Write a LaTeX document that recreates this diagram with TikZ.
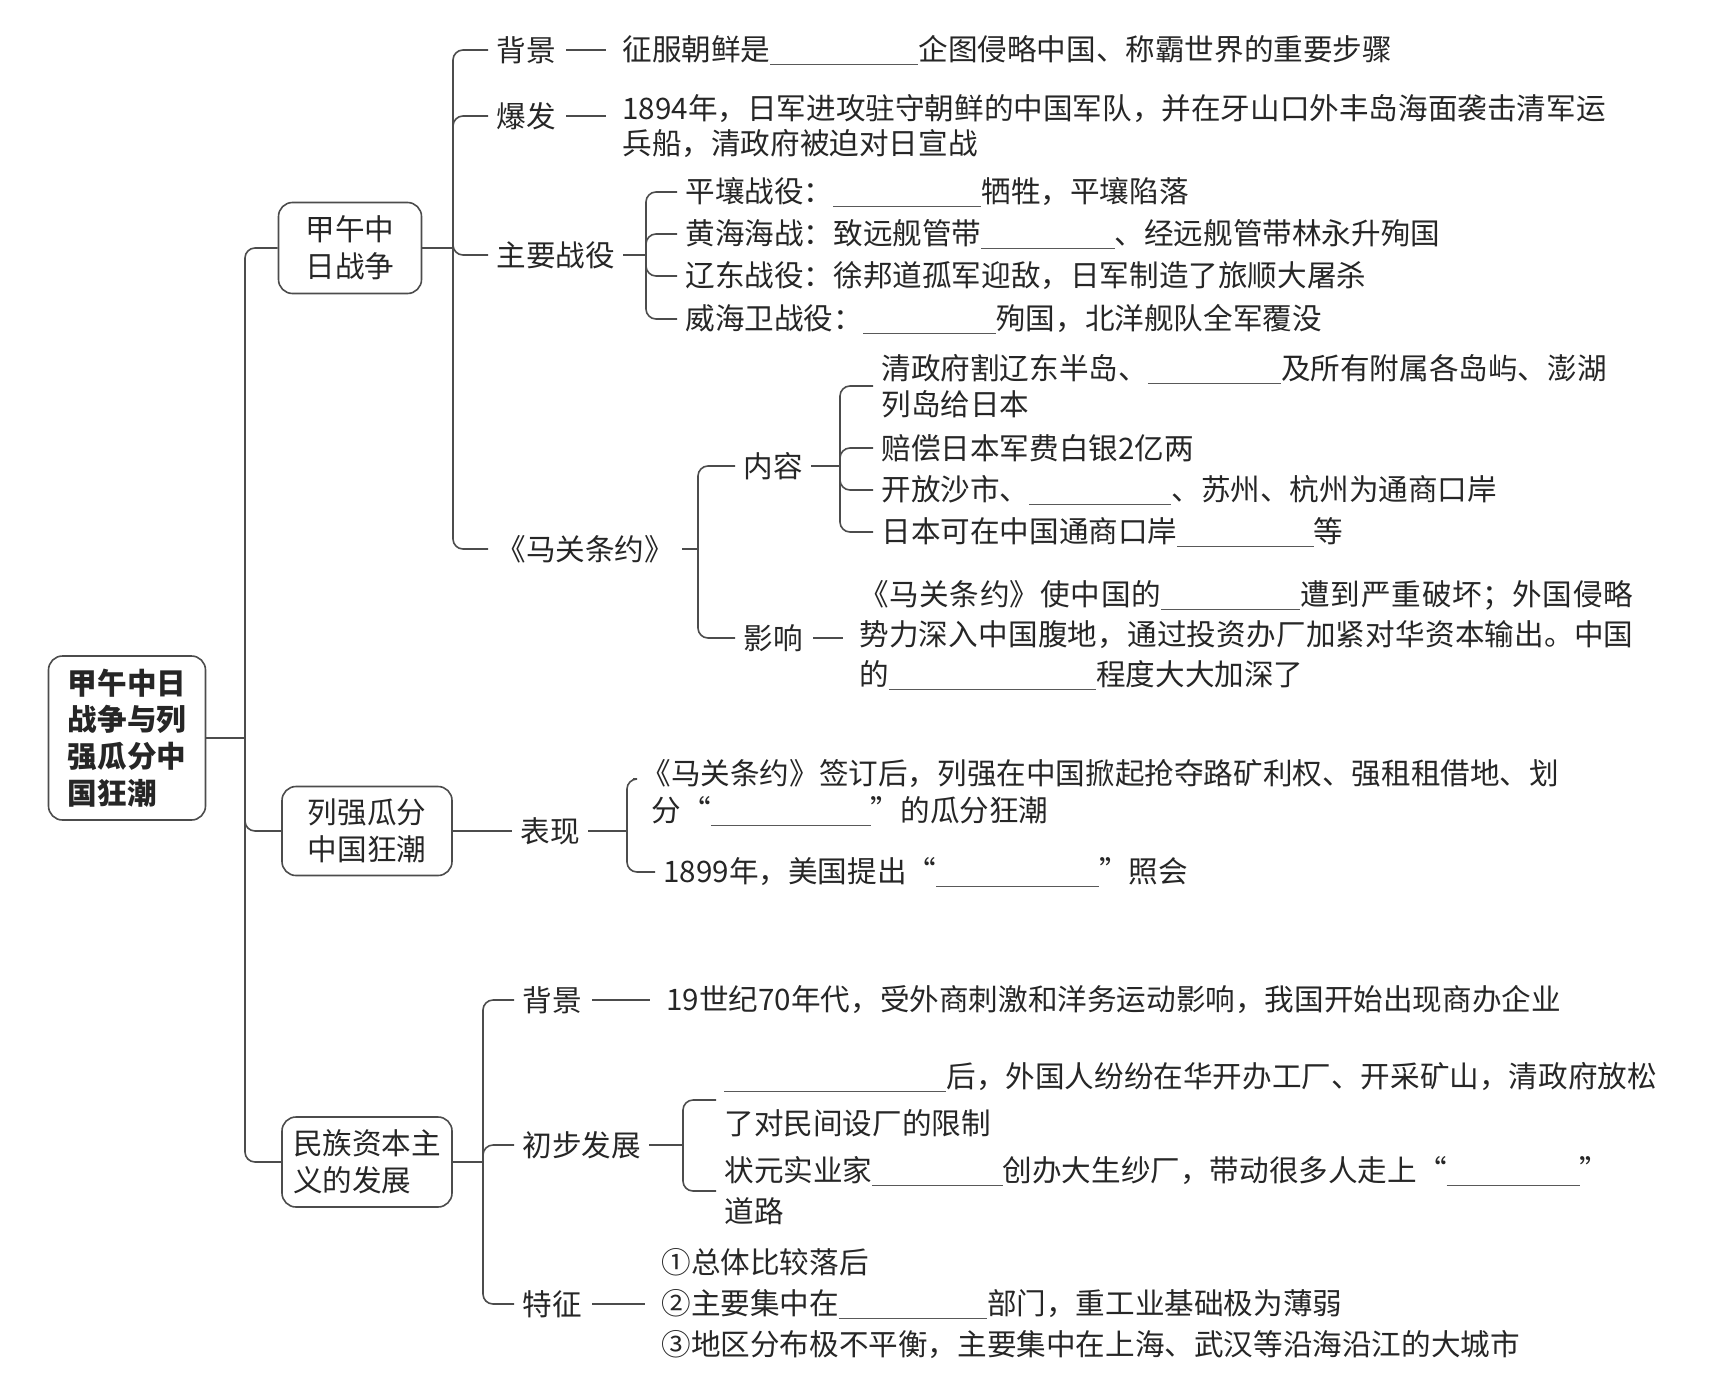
\documentclass[tikz,border=0pt]{standalone}
\usepackage{fontspec}
\setmainfont{Noto Sans CJK SC}
\XeTeXlinebreaklocale "zh"
\XeTeXlinebreakskip=0pt plus 5pt
\usetikzlibrary{calc}
\newcommand\fillin[1]{\textcolor{black!65}{\rule[-0.15em]{#1}{0.5pt}}}

\begin{document}
\begin{tikzpicture}[
  x=0.5pt,
  y=-0.5pt,
  link/.style={draw=black!70, line width=0.8pt},
  fork/.style={link, rounded corners=5pt},
  dashline/.style={link, shorten <=1pt, shorten >=4pt},
  box/.style={draw=black!70, line width=0.8pt, rounded corners=7pt, align=left, inner sep=0pt, text=black!85, font=\fontsize{14.8}{18.3}\selectfont},
  txt/.style={anchor=west, inner xsep=4pt, inner ysep=1pt, align=left, text=black!85, font=\fontsize{14.8}{18}\selectfont},
]
\useasboundingbox (0,0) rectangle (1733,1386);

% Main boxes
\node[box, minimum width=78.5pt, minimum height=82pt, font=\fontsize{14.8}{18.3}\selectfont\bfseries] (root) at (127,738) {甲午中日\\战争与列\\强瓜分中\\国狂潮};
\node[box, minimum width=71.5pt, minimum height=45.5pt] (box1) at (350,248) {甲午中\\日战争};
\node[box, minimum width=85pt, minimum height=44.5pt] (box2) at (367,831) {列强瓜分\\中国狂潮};
\node[box, minimum width=85pt, minimum height=45pt] (box3) at (367,1162) {民族资本主\\义的发展};

% Branch points
\coordinate (j0) at (245,738);
\coordinate (j1) at (453,248);
\coordinate (j2) at (646,255);
\coordinate (j3) at (698,549);
\coordinate (j4) at (840,466);
\coordinate (j5) at (627,831);
\coordinate (j6) at (483,1162);
\coordinate (j7) at (683,1145);

% 甲午中日战争
\node[txt] (bg1) at (488,50) {背景};
\node[txt] (bg1t) at (614,50) {征服朝鲜是\fillin{5em}企图侵略中国、称霸世界的重要步骤};
\node[txt] (bf) at (488,116) {爆发};
\node[txt, font=\fontsize{14.8}{17.5}\selectfont] (bft) at (614,126.5) {1894年，日军进攻驻守朝鲜的中国军队，并在牙山口外丰岛海面袭击清军运\\兵船，清政府被迫对日宣战};
\node[txt] (zy) at (488,255) {主要战役};
\node[txt] (z1) at (677,192) {平壤战役：\fillin{5em}牺牲，平壤陷落};
\node[txt] (z2) at (677,234) {黄海海战：致远舰管带\fillin{4.5em}、经远舰管带林永升殉国};
\node[txt] (z3) at (677,276) {辽东战役：徐邦道孤军迎敌，日军制造了旅顺大屠杀};
\node[txt] (z4) at (677,319) {威海卫战役：\fillin{4.5em}殉国，北洋舰队全军覆没};
\node[txt] (mg) at (488,549) {《马关条约》};
\node[txt] (nr) at (735,466) {内容};
\node[txt] (n1) at (873,386) {清政府割辽东半岛、\fillin{4.5em}及所有附属各岛屿、澎湖\\列岛给日本};
\node[txt] (n2) at (873,448) {赔偿日本军费白银2亿两};
\node[txt] (n3) at (873,490) {开放沙市、\fillin{4.8em}、苏州、杭州为通商口岸};
\node[txt] (n4) at (873,532) {日本可在中国通商口岸\fillin{4.6em}等};
\node[txt] (yx) at (735,638) {影响};
\node[txt, text width=387pt, align=justify, font=\fontsize{14.8}{20}\selectfont] (yxt) at (851,635) {《马关条约》使中国的\fillin{4.7em}遭到严重破坏；外国侵略\linebreak 势力深入中国腹地，通过投资办厂加紧对华资本输出。中国\linebreak 的\fillin{7em}程度大大加深了};

% 列强瓜分中国狂潮
\node[txt] (bx) at (512,831) {表现};
\node[txt, font=\fontsize{14.8}{18.5}\selectfont] (b1) at (633,793) {《马关条约》签订后，列强在中国掀起抢夺路矿利权、强租租借地、划\\\hspace*{0.35em}分“\fillin{5.4em}”的瓜分狂潮};
\coordinate (b1top) at (633,779);
\node[txt] (b2) at (655,872) {1899年，美国提出“\fillin{5.5em}”照会};

% 民族资本主义的发展
\node[txt] (bg2) at (514,1000) {背景};
\node[txt] (bg2t) at (658,1000) {19世纪70年代，受外商刺激和洋务运动影响，我国开始出现商办企业};
\node[txt] (cb) at (514,1145) {初步发展};
\node[txt, font=\fontsize{14.8}{23.5}\selectfont] (c1) at (716,1100) {\fillin{7.5em}后，外国人纷纷在华开办工厂、开采矿山，清政府放松\\了对民间设厂的限制};
\node[txt, font=\fontsize{14.8}{20.5}\selectfont] (c2) at (716,1191) {状元实业家\fillin{4.4em}创办大生纱厂，带动很多人走上“\fillin{4.5em}”\\道路};
\node[txt] (tz) at (514,1304) {特征};
\node[txt, font=\fontsize{14.8}{20.5}\selectfont] (tzt) at (653,1304) {①总体比较落后\\②主要集中在\fillin{5em}部门，重工业基础极为薄弱\\③地区分布极不平衡，主要集中在上海、武汉等沿海沿江的大城市};

% Connectors: parent to branch point
\foreach \a/\b in {root/j0,box1/j1,zy/j2,mg/j3,nr/j4,bx/j5,box3/j6,cb/j7}
  \draw[link] (\a) -- (\b);
\draw[link] (box2) -- (bx);

% Connectors: branch point to children
\foreach \j/\c in {j0/box1,j0/box2,j0/box3,
                  j1/bg1,j1/bf,j1/zy,j1/mg,
                  j2/z1,j2/z2,j2/z3,j2/z4,
                  j3/nr,j3/yx,
                  j4/n1,j4/n2,j4/n3,j4/n4,
                  j5/b2,
                  j6/bg2,j6/cb,j6/tz,
                  j7/c1,j7/c2}
  \draw[fork] (\j) |- (\c.west);
\draw[fork] (j5) |- (b1top);

% Dashes between labels and texts
\foreach \a/\b in {bg1/bg1t,bf/bft,yx/yxt,bg2/bg2t,tz/tzt}
  \draw[dashline] (\a) -- (\a -| \b.west);

\end{tikzpicture}
\end{document}
